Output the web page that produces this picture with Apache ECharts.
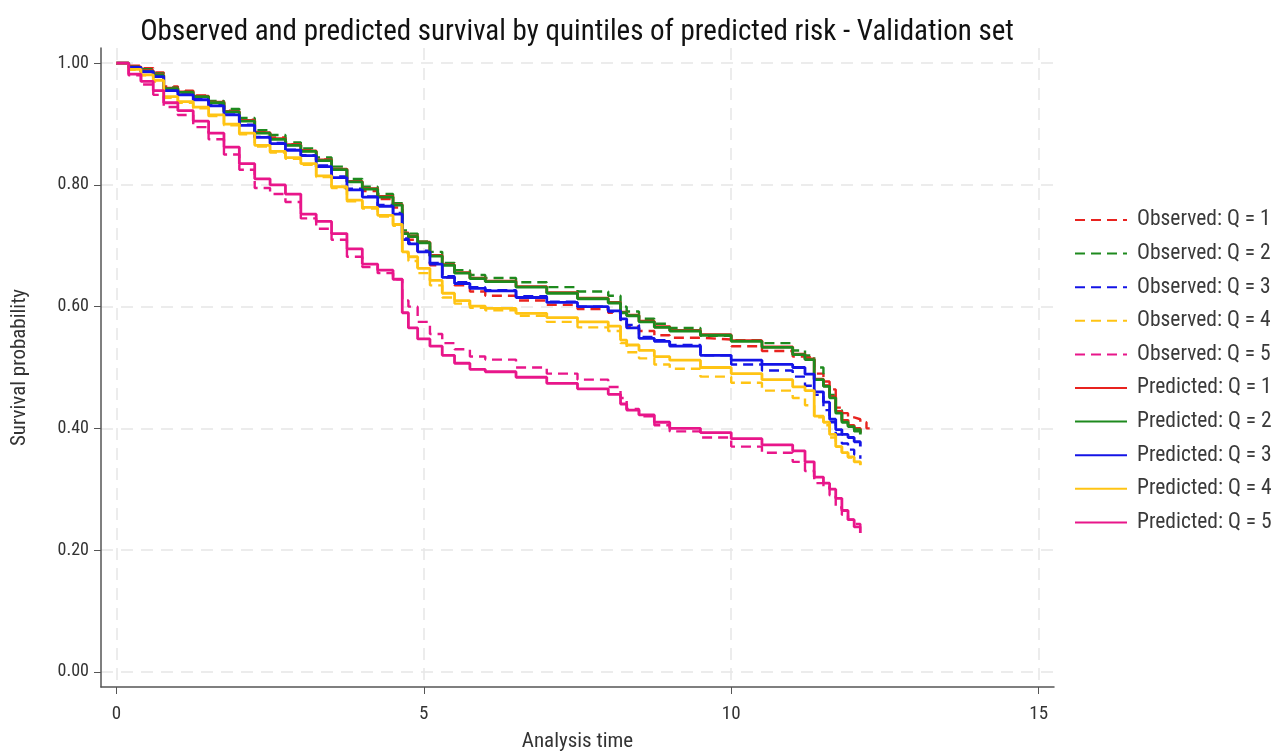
<!DOCTYPE html>
<html>
<head>
<meta charset="utf-8">
<script src="https://cdn.jsdelivr.net/npm/echarts@6/dist/echarts.min.js"></script>
<style>
  html, body { margin: 0; padding: 0; background: #fff; }
  #chart { width: 1275px; height: 753px; }
</style>
</head>
<body>
<div id="chart"></div>
<script>
// analysis time grid (years)
const times = [0, 0.2, 0.4, 0.6, 0.77, 1.0, 1.25, 1.5, 1.75, 2.0, 2.25, 2.5, 2.75, 3.0, 3.25, 3.5, 3.75, 4.0, 4.25, 4.5,
  4.65, 4.75, 4.9, 5.1, 5.3, 5.5, 5.75, 6.0, 6.5, 7.0, 7.5, 8.0, 8.2, 8.3, 8.5, 8.75, 9.0, 9.5, 10.0, 10.5,
  11.0, 11.2, 11.35, 11.5, 11.6, 11.7, 11.8, 11.9, 12.0, 12.1, 12.2, 12.27];

// observed (Kaplan-Meier) survival
const obsQ1 = [1.0,0.996,0.992,0.985,0.962,0.955,0.947,0.937,0.922,0.907,0.887,0.878,0.867,0.857,0.842,0.826,0.805,0.79,0.777,0.763,
  0.715,0.71,0.69,0.668,0.648,0.635,0.625,0.618,0.61,0.603,0.596,0.59,0.575,0.567,0.56,0.553,0.549,0.546,0.535,0.527,
  0.518,0.516,0.49,0.477,0.464,0.434,0.425,0.418,0.415,0.41,0.40,0.398];
const obsQ2 = [1.0,0.995,0.99,0.983,0.96,0.953,0.946,0.938,0.925,0.91,0.89,0.882,0.87,0.86,0.845,0.83,0.81,0.797,0.785,0.77,
  0.725,0.72,0.707,0.69,0.672,0.66,0.652,0.647,0.64,0.632,0.625,0.618,0.6,0.592,0.58,0.572,0.565,0.552,0.545,0.54,
  0.528,0.52,0.5,0.47,0.455,0.43,0.415,0.405,0.395,0.385];
const obsQ3 = [1.0,0.994,0.987,0.979,0.956,0.949,0.941,0.931,0.916,0.899,0.879,0.869,0.858,0.849,0.832,0.814,0.794,0.781,0.767,0.754,
  0.712,0.705,0.692,0.672,0.65,0.64,0.632,0.627,0.617,0.608,0.6,0.592,0.578,0.57,0.55,0.545,0.537,0.52,0.505,0.495,
  0.485,0.47,0.455,0.43,0.41,0.39,0.375,0.365,0.357,0.35];
const obsQ4 = [1.0,0.989,0.98,0.97,0.943,0.935,0.926,0.913,0.898,0.883,0.863,0.853,0.843,0.833,0.813,0.795,0.773,0.761,0.748,0.733,
  0.688,0.675,0.655,0.635,0.615,0.605,0.598,0.594,0.585,0.575,0.566,0.56,0.54,0.525,0.515,0.505,0.498,0.485,0.475,0.462,
  0.45,0.438,0.418,0.405,0.385,0.37,0.36,0.352,0.345,0.338];
const obsQ5 = [1.0,0.98,0.965,0.948,0.928,0.915,0.895,0.875,0.85,0.825,0.795,0.785,0.772,0.745,0.728,0.71,0.682,0.665,0.655,0.645,
  0.61,0.6,0.575,0.555,0.54,0.53,0.518,0.513,0.5,0.49,0.48,0.468,0.45,0.432,0.42,0.405,0.395,0.385,0.37,0.36,
  0.345,0.33,0.31,0.303,0.29,0.27,0.258,0.25,0.243,0.238];

// predicted survival
const predQ1 = [1.0,0.994,0.988,0.981,0.959,0.953,0.946,0.936,0.921,0.906,0.886,0.876,0.866,0.856,0.841,0.826,0.806,0.794,0.781,0.768,
  0.721,0.716,0.706,0.684,0.669,0.656,0.647,0.642,0.633,0.623,0.614,0.607,0.591,0.586,0.576,0.567,0.561,0.554,0.544,0.534,
  0.522,0.514,0.481,0.47,0.452,0.428,0.413,0.405,0.4,0.393];
const predQ2 = [1.0,0.993,0.987,0.98,0.958,0.952,0.945,0.935,0.92,0.905,0.885,0.875,0.865,0.855,0.84,0.825,0.805,0.793,0.78,0.767,
  0.72,0.715,0.705,0.683,0.668,0.655,0.646,0.641,0.632,0.622,0.613,0.606,0.59,0.585,0.575,0.566,0.56,0.553,0.543,0.533,
  0.521,0.513,0.48,0.469,0.45,0.425,0.41,0.403,0.398,0.39];
const predQ3 = [1.0,0.993,0.986,0.978,0.955,0.948,0.94,0.93,0.915,0.898,0.878,0.868,0.857,0.848,0.83,0.812,0.792,0.78,0.765,0.752,
  0.71,0.703,0.69,0.67,0.648,0.638,0.63,0.626,0.615,0.607,0.6,0.593,0.58,0.565,0.548,0.543,0.535,0.52,0.512,0.505,
  0.5,0.489,0.46,0.443,0.415,0.398,0.39,0.385,0.378,0.37];
const predQ4 = [1.0,0.99,0.981,0.972,0.945,0.937,0.928,0.915,0.9,0.885,0.865,0.855,0.845,0.835,0.815,0.797,0.775,0.763,0.75,0.735,
  0.69,0.682,0.663,0.643,0.622,0.61,0.601,0.597,0.589,0.582,0.575,0.568,0.545,0.537,0.528,0.518,0.512,0.5,0.49,0.48,
  0.468,0.462,0.42,0.41,0.39,0.37,0.36,0.353,0.345,0.34];
const predQ5 = [1.0,0.982,0.97,0.955,0.935,0.922,0.905,0.885,0.862,0.835,0.81,0.8,0.785,0.752,0.74,0.72,0.695,0.67,0.66,0.645,
  0.59,0.565,0.547,0.535,0.52,0.507,0.497,0.493,0.484,0.474,0.465,0.456,0.44,0.43,0.422,0.41,0.4,0.393,0.383,0.373,
  0.363,0.345,0.32,0.31,0.3,0.285,0.265,0.25,0.238,0.228];

const yTicks = [0, 0.2, 0.4, 0.6, 0.8, 1.0];
const xTicks = [0, 5, 10, 15];
const colors = ['#e8231f', '#1e8a1e', '#1414e6', '#ffc414', '#e8168a'];

const FONT = '"Liberation Sans Narrow", "Roboto Condensed", "Arial Narrow", Roboto, sans-serif';

function pairs(vals) {
  return vals.map((v, i) => [times[i], v]);
}

const observed = [obsQ1, obsQ2, obsQ3, obsQ4, obsQ5];
const predicted = [predQ1, predQ2, predQ3, predQ4, predQ5];
let series = [];
observed.forEach((vals, i) => {
  series.push({
    name: 'Observed: Q = ' + (i + 1),
    type: 'line',
    step: 'end',
    symbol: 'none',
    data: pairs(vals),
    itemStyle: { color: colors[i] },
    lineStyle: { color: colors[i], width: 2.4, type: [10, 6] }
  });
});
predicted.forEach((vals, i) => {
  series.push({
    name: 'Predicted: Q = ' + (i + 1),
    type: 'line',
    step: 'end',
    symbol: 'none',
    data: pairs(vals),
    itemStyle: { color: colors[i] },
    lineStyle: { color: colors[i], width: 2.8, type: 'solid' }
  });
});

let chart = echarts.init(document.getElementById('chart'));
chart.setOption({
  animation: false,
  backgroundColor: '#fff',
  title: {
    text: 'Observed and predicted survival by quintiles of predicted risk - Validation set',
    left: 572,
    top: 13,
    textAlign: 'center',
    textStyle: { fontFamily: FONT, fontSize: 29, fontWeight: 'normal', color: '#111' }
  },
  legend: {
    orient: 'vertical',
    left: 1069,
    top: 204,
    itemWidth: 52,
    itemHeight: 14,
    itemGap: 11.6,
    itemStyle: { opacity: 0 },
    data: series.map(s => s.name),
    textStyle: { fontFamily: FONT, fontSize: 21.5, color: '#3a3a3a', padding: [0, 0, 0, 5] }
  },
  grid: { left: 101, right: 221, top: 48, bottom: 66, outerBoundsMode: 'none' },
  xAxis: {
    type: 'value',
    min: -0.25,
    max: 15.25,
    name: 'Analysis time',
    nameLocation: 'middle',
    nameGap: 44,
    nameTextStyle: { fontFamily: FONT, fontSize: 21, color: '#333' },
    axisLine: { onZero: false, lineStyle: { color: '#555', width: 1.5 } },
    axisTick: { customValues: xTicks, length: 7, lineStyle: { color: '#555' } },
    axisLabel: { customValues: xTicks, fontFamily: FONT, fontSize: 19, color: '#333', margin: 18 },
    splitLine: { show: true, lineStyle: { color: '#e6e6e6', width: 1.5, type: [12, 8] } }
  },
  yAxis: {
    type: 'value',
    min: -0.025,
    max: 1.025,
    name: 'Survival probability',
    nameLocation: 'middle',
    nameGap: 71,
    nameRotate: 90,
    nameTextStyle: { fontFamily: FONT, fontSize: 21, color: '#333' },
    axisLine: { show: true, onZero: false, lineStyle: { color: '#555', width: 1.5 } },
    axisTick: { show: true, customValues: yTicks, length: 7, lineStyle: { color: '#555' } },
    axisLabel: {
      customValues: yTicks, fontFamily: FONT, fontSize: 18, color: '#333', margin: 12,
      formatter: v => v.toFixed(2)
    },
    splitLine: { show: true, lineStyle: { color: '#e6e6e6', width: 1.5, type: [12, 8] } }
  },
  series: series
});
</script>
</body>
</html>
